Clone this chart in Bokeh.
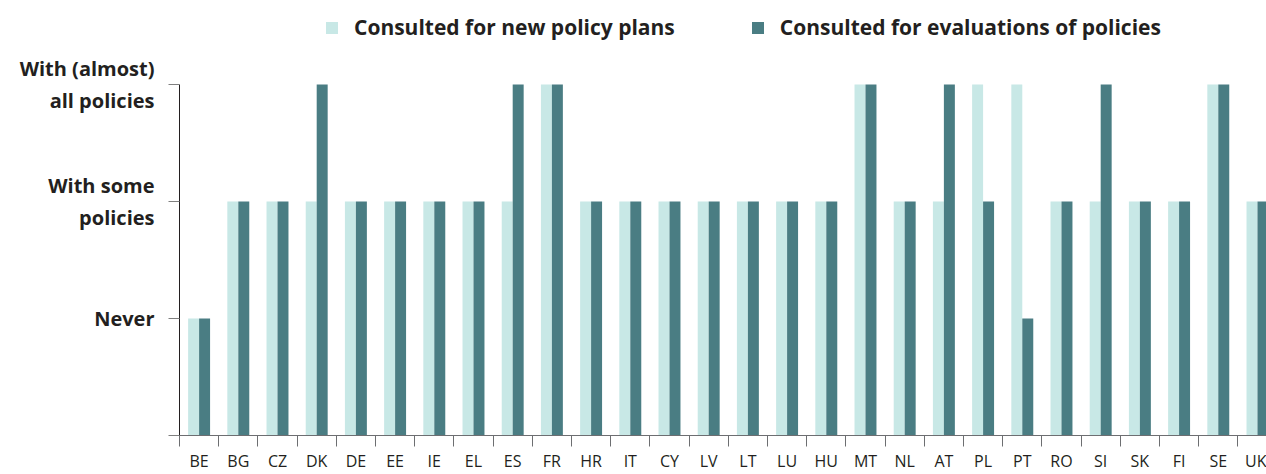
from bokeh.plotting import figure
from bokeh.models import Range1d, FixedTicker, Legend, LegendItem, ColumnDataSource
from bokeh.embed import file_html
from bokeh.resources import INLINE

countries = ["BE", "BG", "CZ", "DK", "DE", "EE", "IE", "EL", "ES", "FR", "HR", "IT", "CY", "LV",
             "LT", "LU", "HU", "MT", "NL", "AT", "PL", "PT", "RO", "SI", "SK", "FI", "SE", "UK"]
new_plans = [1, 2, 2, 2, 2, 2, 2, 2, 2, 3, 2, 2, 2, 2,
             2, 2, 2, 3, 2, 2, 3, 3, 2, 2, 2, 2, 3, 2]
evaluations = [1, 2, 2, 3, 2, 2, 2, 2, 3, 3, 2, 2, 2, 2,
               2, 2, 2, 3, 2, 3, 2, 1, 2, 3, 2, 2, 3, 2]
level_labels = {0: "", 1: "Never", 2: "With some\npolicies", 3: "With (almost)\nall policies"}
series_names = ["Consulted for new policy plans", "Consulted for evaluations of policies"]

LIGHT = "#c8e8e6"
DARK = "#4a7d83"
TXT = "#231f20"
FONT = "Open Sans"

idx = list(range(len(countries)))
src = ColumnDataSource(dict(
    x_light=[i + 0.36 for i in idx],
    x_dark=[i + 0.64 for i in idx],
    new=new_plans,
    ev=evaluations,
))

# frame reaches the top of the canvas so that the legend sits inside it;
# the y axis line itself is bounded to 0..3
p = figure(width=1266, height=474, output_backend="svg", toolbar_location=None,
           x_range=Range1d(0, 27.73), y_range=Range1d(0, 3.718),
           min_border_left=179, min_border_right=0, min_border_top=0, min_border_bottom=39)
p.outline_line_color = None
p.xgrid.visible = False
p.ygrid.visible = False

r1 = p.vbar(x="x_light", top="new", bottom=0, width=0.28, source=src,
            fill_color=LIGHT, line_color=None)
r2 = p.vbar(x="x_dark", top="ev", bottom=0, width=0.28, source=src,
            fill_color=DARK, line_color=None)

# x axis: labels at centres, ticks at boundaries
xa = p.xaxis[0]
xa.ticker = FixedTicker(ticks=[i + 0.5 for i in idx], minor_ticks=idx)
xa.major_label_overrides = {i + 0.5: c for i, c in zip(idx, countries)}
xa.major_tick_out = 0
xa.major_tick_in = 0
xa.minor_tick_out = 11
xa.minor_tick_in = 0
xa.minor_tick_line_color = "#6d6e71"
xa.axis_line_color = "#6d6e71"
xa.major_label_text_font = FONT
xa.major_label_text_font_size = "16px"
xa.major_label_text_color = TXT
xa.major_label_standoff = 3

ya = p.yaxis[0]
ya.ticker = FixedTicker(ticks=[0, 1, 2, 3])
ya.bounds = (0, 3)
ya.major_label_overrides = level_labels
ya.minor_tick_line_color = None
ya.major_tick_out = 11
ya.major_tick_in = 0
ya.major_tick_line_color = "#7f7f7f"
ya.axis_line_color = TXT
ya.major_label_text_font = FONT
ya.major_label_text_font_size = "20px"
ya.major_label_text_font_style = "bold"
ya.major_label_text_color = TXT
ya.major_label_standoff = 14

legend = Legend(items=[LegendItem(label=series_names[0], renderers=[r1]),
                       LegendItem(label=series_names[1], renderers=[r2])],
                orientation="horizontal", location=(145, 394),
                glyph_width=15, glyph_height=15, label_standoff=15, spacing=75,
                padding=0, margin=0, border_line_alpha=0, background_fill_alpha=0,
                label_text_font=FONT, label_text_font_size="21px",
                label_text_font_style="bold", label_text_color=TXT)
p.add_layout(legend, "center")

open("out.html", "w").write(file_html(p, INLINE))
